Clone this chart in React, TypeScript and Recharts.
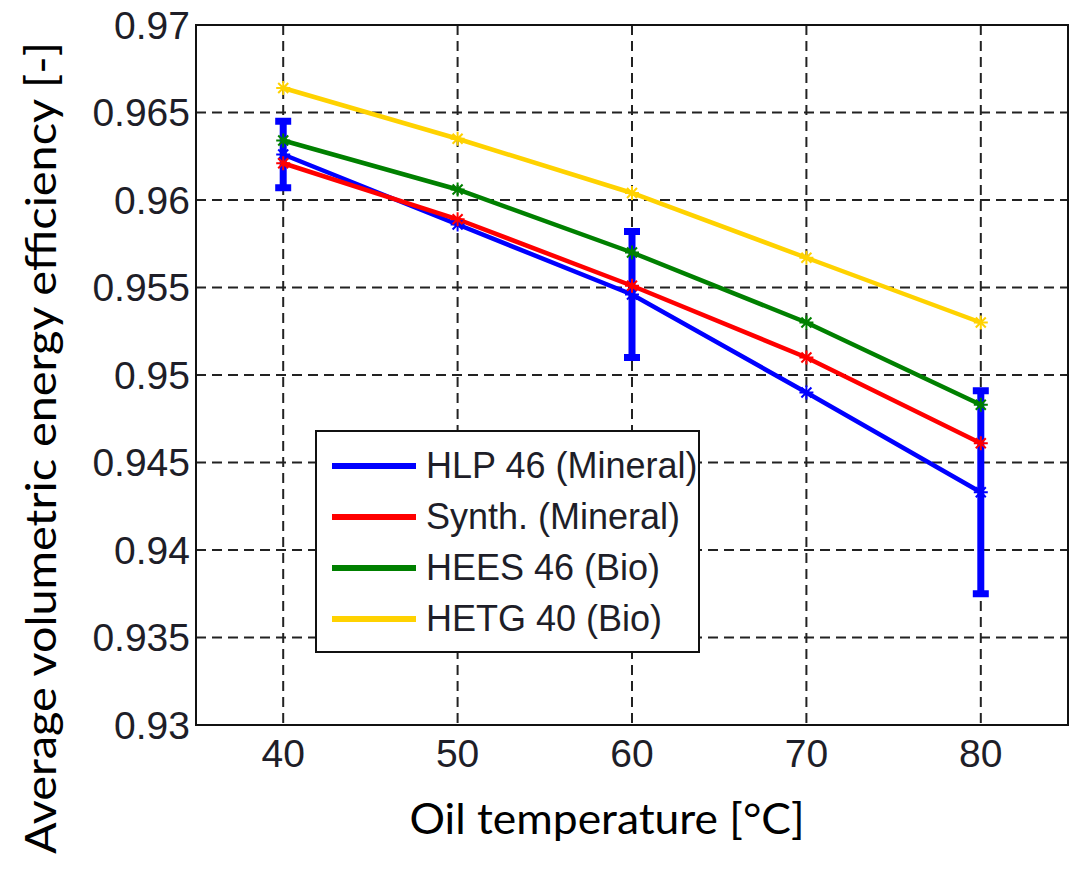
import {
  LineChart,
  Line,
  XAxis,
  YAxis,
  CartesianGrid,
  ErrorBar,
  Legend,
  ReferenceArea,
} from 'recharts';

const temps = [40, 50, 60, 70, 80];
const hlp46 = [0.9626, 0.9586, 0.9546, 0.949, 0.9433];
const hlp46Err = [0.0019, null, 0.0036, null, 0.0058];
const synth = [0.9621, 0.9589, 0.9551, 0.951, 0.9461];
const hees46 = [0.9634, 0.9606, 0.957, 0.953, 0.9483];
const hetg40 = [0.9664, 0.9635, 0.9604, 0.9567, 0.953];

const xTicks = [40, 50, 60, 70, 80];
const yTicks = [0.93, 0.935, 0.94, 0.945, 0.95, 0.955, 0.96, 0.965, 0.97];

const series = [
  { key: 'hlp', name: 'HLP 46 (Mineral)', color: '#0000ff' },
  { key: 'synth', name: 'Synth. (Mineral)', color: '#ff0000' },
  { key: 'hees', name: 'HEES 46 (Bio)', color: '#008000' },
  { key: 'hetg', name: 'HETG 40 (Bio)', color: '#ffd200' },
];

const data = temps.map((t, i) => ({
  t,
  hlp: hlp46[i],
  hlpErr: hlp46Err[i],
  synth: synth[i],
  hees: hees46[i],
  hetg: hetg40[i],
}));

const tickFont = { fontFamily: 'Liberation Sans, Arial, sans-serif', fontSize: 39, fill: '#1e1e28' };

function Star(props: any) {
  const { cx, cy, stroke } = props;
  if (cx == null || cy == null) return null;
  const r = 7;
  const d = 5;
  return (
    <g stroke={stroke} strokeWidth={2}>
      <line x1={cx - r} y1={cy} x2={cx + r} y2={cy} />
      <line x1={cx} y1={cy - r} x2={cx} y2={cy + r} />
      <line x1={cx - d} y1={cy - d} x2={cx + d} y2={cy + d} />
      <line x1={cx - d} y1={cy + d} x2={cx + d} y2={cy - d} />
    </g>
  );
}

function LegendBox() {
  return (
    <div
      style={{
        border: '2px solid #111',
        background: '#fff',
        width: 381,
        height: 211,
        boxSizing: 'content-box',
        paddingTop: 8,
      }}
    >
      {series.map((s) => (
        <div key={s.key} style={{ display: 'flex', alignItems: 'center', height: 51, whiteSpace: 'nowrap' }}>
          <div style={{ width: 84, height: 6, flex: '0 0 84px', background: s.color, marginLeft: 15, marginRight: 10 }} />
          <span style={{ fontFamily: 'Liberation Sans, Arial, sans-serif', fontSize: 36, color: '#1e1e28' }}>
            {s.name}
          </span>
        </div>
      ))}
    </div>
  );
}

export default function App() {
  return (
    <div style={{ position: 'absolute', left: 0, top: 0, background: '#fff' }}>
      <LineChart width={1074} height={885} data={data} margin={{ top: 25, right: 6, left: 0, bottom: 50 }}>
        <CartesianGrid stroke="#222" strokeWidth={2} strokeDasharray="10 6" />
        <XAxis
          dataKey="t"
          type="number"
          domain={[35, 85]}
          ticks={xTicks}
          height={110}
          tickLine={false}
          tickSize={6}
          tickMargin={8}
          axisLine={{ stroke: '#111', strokeWidth: 2 }}
          tick={tickFont}
          label={{
            content: () => (
              <text
                x={607}
                y={834}
                textAnchor="middle"
                fontFamily="Lato, Open Sans, sans-serif"
                fontSize={42}
                fill="#000"
                textLength={395}
                lengthAdjust="spacingAndGlyphs"
              >
                Oil temperature [°C]
              </text>
            ),
          }}
        />
        <YAxis
          type="number"
          domain={[0.93, 0.97]}
          ticks={yTicks}
          width={196}
          tickLine={false}
          tickSize={4}
          tickMargin={2}
          axisLine={{ stroke: '#111', strokeWidth: 2 }}
          tick={tickFont}
          tickFormatter={(v: number) => String(v)}
          label={{
            content: () => (
              <text
                x={56}
                y={448}
                transform="rotate(-90 56 448)"
                textAnchor="middle"
                fontFamily="Lato, Open Sans, sans-serif"
                fontSize={42}
                fill="#000"
                textLength={812}
                lengthAdjust="spacingAndGlyphs"
              >
                Average volumetric energy efficiency [-]
              </text>
            ),
          }}
        />
        <ReferenceArea x1={35} x2={85} y1={0.93} y2={0.97} fill="none" stroke="#111" strokeWidth={2} ifOverflow="visible" />
        {series.map((s) => (
          <Line
            key={s.key}
            dataKey={s.key}
            stroke={s.color}
            strokeWidth={4.5}
            dot={<Star stroke={s.color} />}
            activeDot={false}
            isAnimationActive={false}
          >
            {s.key === 'hlp' && (
              <ErrorBar dataKey="hlpErr" direction="y" width={8} stroke="#0000ff" strokeWidth={7} />
            )}
          </Line>
        ))}
        <Legend
          layout="vertical"
          align="center"
          verticalAlign="middle"
          wrapperStyle={{ left: 315, top: 430, width: 385 }}
          content={() => <LegendBox />}
        />
      </LineChart>
    </div>
  );
}
